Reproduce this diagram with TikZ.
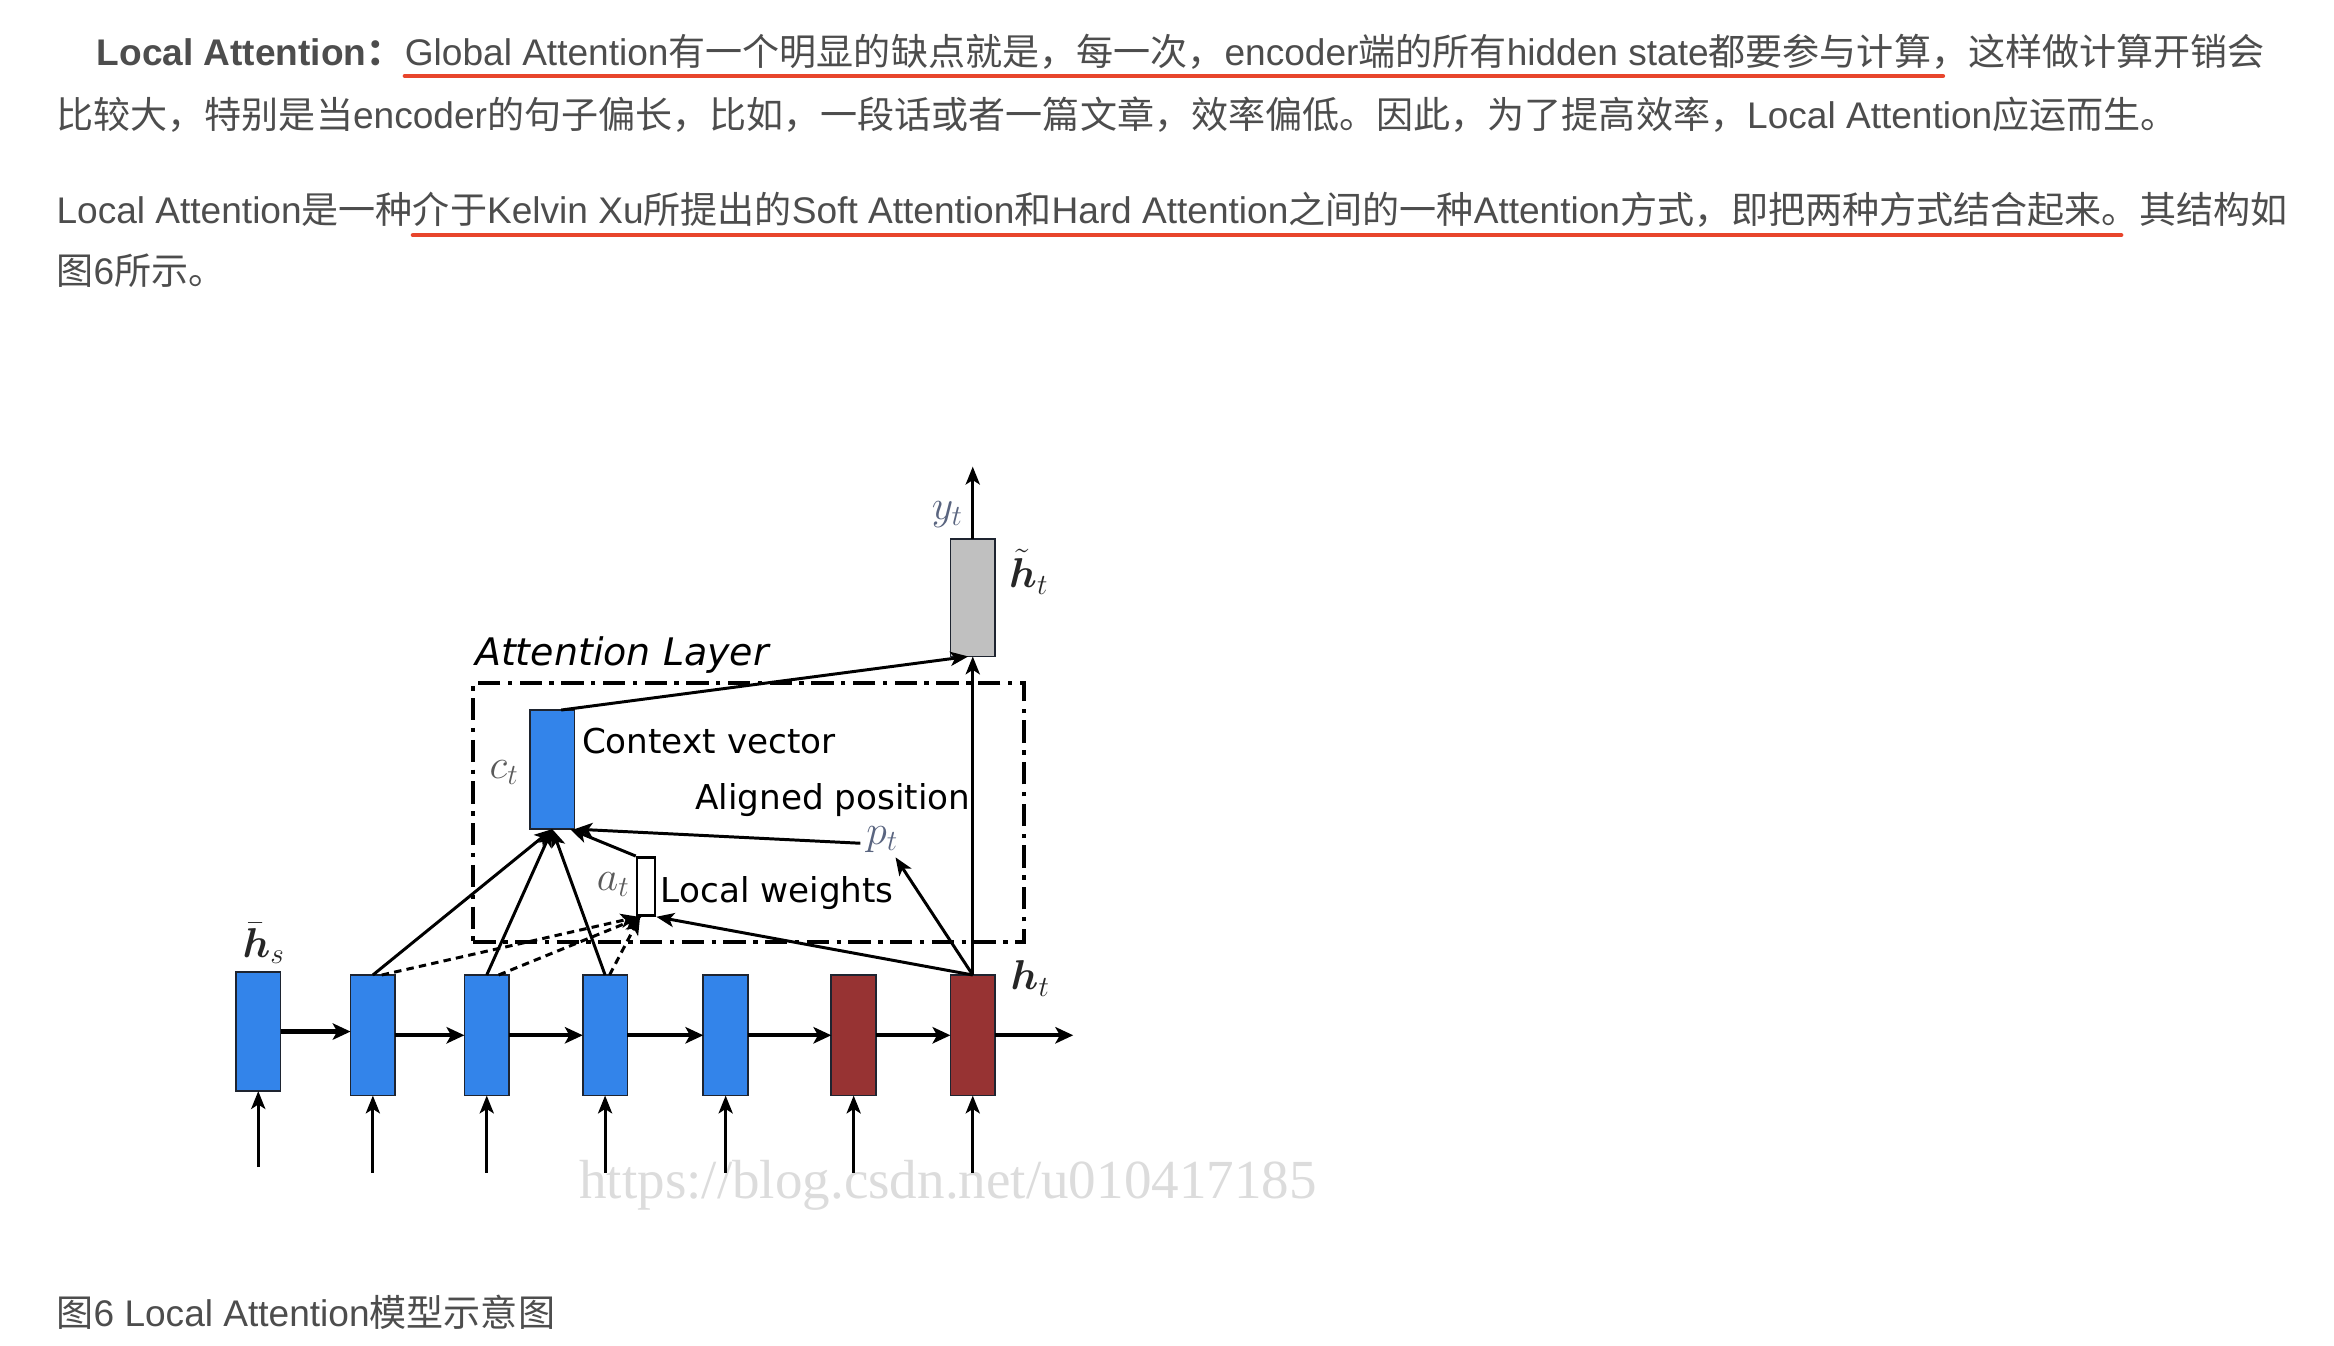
\RequirePackage{fix-cm}
\documentclass[tikz,border=0pt]{standalone}
\usepackage{fontspec}
\usepackage{bm}
\setmainfont{Liberation Sans}
\newfontfamily\zhfont{Noto Sans CJK SC}
\newfontfamily\djv{DejaVu Sans}
\newfontfamily\wmfont{Liberation Serif}
\usetikzlibrary{arrows.meta,calc}
\newcommand{\zh}[1]{{\zhfont #1}}
\definecolor{txt}{HTML}{4D4D4D}
\definecolor{ulred}{HTML}{E8452C}
\definecolor{encblue}{HTML}{3384EA}
\definecolor{decred}{HTML}{973333}
\definecolor{htgray}{HTML}{C0C0C0}
\definecolor{boxline}{HTML}{1E2430}
\definecolor{wm}{HTML}{DCDCDC}
\definecolor{lblgray}{HTML}{5A5A5A}
\definecolor{lblblue}{HTML}{5A6580}
\begin{document}
\begin{tikzpicture}[x=1pt,y=-1pt,
  para/.style={anchor=base west,inner sep=0pt,outer sep=0pt,text=txt,font=\fontsize{24.9}{29}\selectfont},
  ul/.style={draw=ulred,line width=3pt,line cap=round},
  box/.style={draw=boxline,line width=1.2pt,minimum width=30pt,inner sep=0pt,outer sep=0pt},
  arr/.style={draw=black,line width=2pt,-{Stealth[length=12pt,width=9.5pt,inset=3pt]}},
  harr/.style={draw=black,line width=2.8pt,-{Stealth[length=12pt,width=11pt,inset=3pt]}},
  darr/.style={draw=black,line width=2pt,dash pattern=on 5pt off 3.5pt,-{Stealth[length=12pt,width=9.5pt,inset=3pt]}},
  lbl/.style={anchor=base west,inner sep=0pt,outer sep=0pt,font=\fontsize{28}{32}\selectfont},
  dlbl/.style={anchor=base west,inner sep=0pt,outer sep=0pt,text=black,font=\djv\fontsize{23}{27}\selectfont}
]
\useasboundingbox[fill=white] (0,0) rectangle (1568,904);

% ---------- paragraph text ----------
\node[para] (l1a) at (65,44) {\bfseries Local Attention\zh{：}};
\node[para] (u1) at (272,44) {Global Attention\zh{有一个明显的缺点就是，每一次，}encoder\zh{端的所有}hidden state\zh{都要参与计算，}};
\node[para] (l1c) at (u1.base east) {\zh{这样做计算开销会}};
\node[para] (l2) at (38,86) {\zh{比较大，特别是当}encoder\zh{的句子偏长，比如，一段话或者一篇文章，效率偏低。因此，为了提高效率，}Local Attention\zh{应运而生。}};
\node[para] (l3a) at (38,150) {Local Attention\zh{是一种}};
\node[para] (u3) at (l3a.base east) {\zh{介于}Kelvin Xu\zh{所提出的}Soft Attention\zh{和}Hard Attention\zh{之间的一种}Attention\zh{方式，即把两种方式结合起来。}};
\node[para] (l3c) at (u3.base east) {\zh{其结构如}};
\node[para] (l4) at (38,191) {\zh{图}6\zh{所示。}};
\draw[ul] ([yshift=-7pt]u1.base west) -- ([yshift=-7pt,xshift=-17pt]u1.base east);
\draw[ul] ([yshift=-8pt]u3.base west) -- ([yshift=-8pt,xshift=-12pt]u3.base east);

% ---------- caption & watermark ----------
\node[para] (cap) at (38,891) {\zh{图}6 Local Attention\zh{模型示意图}};
\node[anchor=base west,inner sep=0pt,text=wm,font=\wmfont\fontsize{37}{40}\selectfont] (wmk) at (389,805) {https://blog.csdn.net/u010417185};

% ---------- encoder / decoder boxes ----------
\node[box,fill=encblue,minimum height=80pt] (b1) at (173.5,693) {};
\node[box,fill=encblue,minimum height=81pt] (b2) at (250.5,695.5) {};
\node[box,fill=encblue,minimum height=81pt] (b3) at (327,695.5) {};
\node[box,fill=encblue,minimum height=81pt] (b4) at (406.5,695.5) {};
\node[box,fill=encblue,minimum height=81pt] (b5) at (487.5,695.5) {};
\node[box,fill=decred,minimum height=81pt] (b6) at (573.5,695.5) {};
\node[box,fill=decred,minimum height=81pt] (b7) at (653.5,695.5) {};

% inputs
\coordinate (i1) at (173.5,784);
\coordinate (i2) at (250.5,788);
\coordinate (i3) at (327,788);
\coordinate (i4) at (406.5,788);
\coordinate (i5) at (487.5,788);
\coordinate (i6) at (573.5,788);
\coordinate (i7) at (653.5,788);
\foreach \k in {1,...,7} {\draw[arr] (i\k) -- (b\k.south);}

% recurrent arrows
\draw[harr] (b1.east) -- (b1.east -| b2.west);
\draw[harr] (b2.east) -- (b3.west);
\draw[harr] (b3.east) -- (b4.west);
\draw[harr] (b4.east) -- (b5.west);
\draw[harr] (b5.east) -- (b6.west);
\draw[harr] (b6.east) -- (b7.west);
\coordinate (out) at (721,695.5);
\draw[harr] (b7.east) -- (out);

% ---------- attention layer ----------
\node[draw=black,line width=2.8pt,dash pattern=on 15pt off 5pt on 3pt off 5pt,minimum width=370pt,minimum height=174pt,inner sep=0pt] (att) at (503,546) {};
\node[anchor=base west,inner sep=0pt,font=\djv\itshape\fontsize{25.5}{30}\selectfont] (attl) at (319,447) {Attention Layer};

\node[box,fill=encblue,minimum height=80pt] (ct) at (371,517) {};
\node[box,fill=htgray,minimum height=79pt] (hh) at (653.5,401.5) {};
\node[draw=black,line width=1.8pt,fill=white,minimum width=12pt,minimum height=39pt,inner sep=0pt] (aw) at (434,595.5) {};

\node[dlbl] (cv) at (391,506) {Context vector};
\node[dlbl] (ap) at (467,544) {Aligned position};
\node[dlbl] (lw) at (444,606.5) {Local weights};

% math labels
\node[lbl,text=black!85] (hsl) at (163,643) {$\bar{\bm h}_s$};
\node[lbl,text=black!85] (htl) at (679,665) {$\bm h_t$};
\node[lbl,text=black!85] (httl) at (678,395) {$\tilde{\bm h}_t$};
\node[lbl,text=lblblue] (ytl) at (626,349) {$y_t$};
\node[lbl,text=lblgray] (ctl) at (329,523) {$c_t$};
\node[lbl,text=lblgray] (atl) at (401,598) {$a_t$};
\node[lbl,text=lblblue] (pt) at (582,567.5) {$p_t$};

% output
\coordinate (yt) at (653.5,313.5);
\draw[arr] (hh.north) -- (yt);
\draw[arr] (b7.north) -- (hh.south);
\draw[arr] ([xshift=6pt]ct.north) -- ([xshift=-3pt]hh.south);

% into context vector
\draw[arr] (b2.north) -- (ct.south);
\draw[arr] (b3.north) -- (ct.south);
\draw[arr] (b4.north) -- (ct.south);
\draw[arr] (aw.north west) -- ([xshift=-3pt]ct.south east);
\draw[arr] ([xshift=-4pt,yshift=1pt]pt.base west) -- (ct.south east);

% aligned position and local weights
\draw[arr] (b7.north) -- ([xshift=9pt,yshift=-3pt]pt.south);
\draw[arr] (b7.north) -- (aw.south east);
\draw[darr] ([xshift=6pt]b2.north) -- ([xshift=-5pt]aw.south);
\draw[darr] ([xshift=8pt]b3.north) -- ([xshift=-3pt]aw.south);
\draw[darr] ([xshift=3pt]b4.north) -- ([xshift=-4pt]aw.south);
\end{tikzpicture}
\end{document}
